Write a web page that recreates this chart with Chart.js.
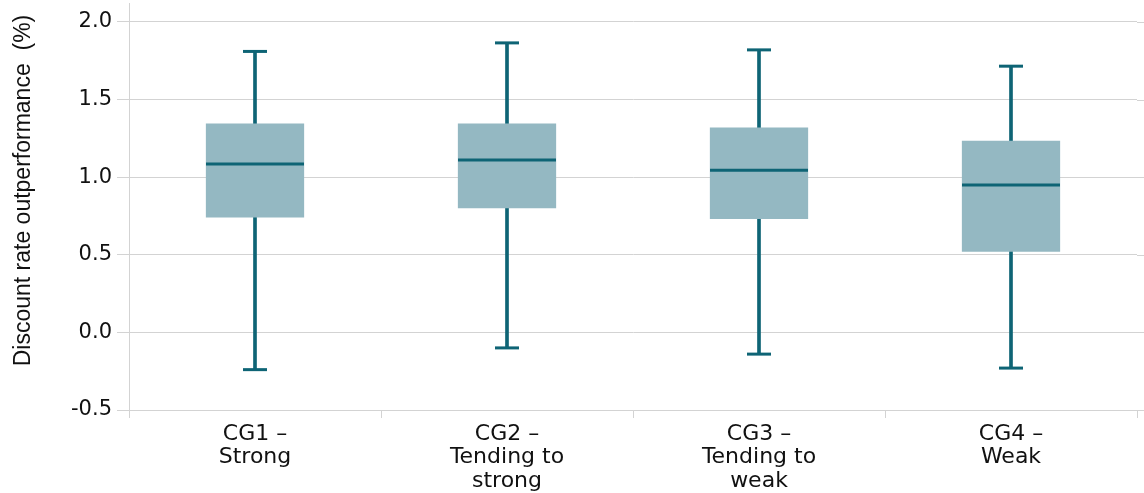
<!DOCTYPE html>
<html>
<head>
<meta charset="utf-8">
<script src="https://cdn.jsdelivr.net/npm/chart.js@4/dist/chart.umd.min.js"></script>
<style>
  html, body { margin: 0; padding: 0; background: #fff; }
  #wrap { width: 1144px; height: 493px; position: relative; }
</style>
</head>
<body>
<div id="wrap"><canvas id="boxChart"></canvas></div>
<script>
// Categories and box plot statistics (%)
const categories = [
    ['CG1 \u2013', 'Strong'],
    ['CG2 \u2013', 'Tending to', 'strong'],
    ['CG3 \u2013', 'Tending to', 'weak'],
    ['CG4 \u2013', 'Weak']
];
const minValues    = [-0.24, -0.10, -0.14, -0.23];
const q1Values     = [0.74, 0.80, 0.73, 0.52];
const medianValues = [1.085, 1.11, 1.045, 0.95];
const q3Values     = [1.345, 1.345, 1.32, 1.235];
const maxValues    = [1.81, 1.865, 1.82, 1.715];
const yTicks = [-0.5, 0.0, 0.5, 1.0, 1.5, 2.0];

const darkTeal = '#0e6475';
const boxFill = '#94b8c2';
const gridGrey = '#d3d3d3';

// Whisker and box ranges built from the arrays
const whiskerRanges = minValues.map((v, i) => [v, maxValues[i]]);
const boxRanges = q1Values.map((v, i) => [v, q3Values[i]]);

// Gridlines run a little past the last category tick, to the page edge
const gridExtend = {
    id: 'gridExtend',
    beforeDatasetsDraw(chart) {
        const ctx = chart.ctx;
        const y = chart.scales.y;
        const right = chart.chartArea.right;
        ctx.save();
        ctx.strokeStyle = gridGrey;
        ctx.lineWidth = 1;
        yTicks.forEach(t => {
            const py = Math.round(y.getPixelForValue(t)) + 0.5;
            ctx.beginPath();
            ctx.moveTo(right, py);
            ctx.lineTo(chart.width, py);
            ctx.stroke();
        });
        ctx.restore();
    }
};

const ctx = document.getElementById('boxChart').getContext('2d');
new Chart(ctx, {
    type: 'bar',
    data: {
        labels: categories,
        datasets: [
            {
                type: 'line',
                label: 'Median',
                data: medianValues,
                showLine: false,
                pointStyle: 'line',
                pointRadius: 49,
                pointBorderWidth: 3,
                pointBorderColor: darkTeal,
                pointBackgroundColor: darkTeal,
                order: 1
            },
            {
                type: 'line',
                label: 'Max',
                data: maxValues,
                showLine: false,
                pointStyle: 'line',
                pointRadius: 12,
                pointBorderWidth: 3,
                pointBorderColor: darkTeal,
                order: 1
            },
            {
                type: 'line',
                label: 'Min',
                data: minValues,
                showLine: false,
                pointStyle: 'line',
                pointRadius: 12,
                pointBorderWidth: 3,
                pointBorderColor: darkTeal,
                order: 1
            },
            {
                label: 'Interquartile range',
                data: boxRanges,
                backgroundColor: boxFill,
                borderWidth: 0,
                grouped: false,
                barPercentage: 0.39,
                categoryPercentage: 1,
                order: 2
            },
            {
                label: 'Range',
                data: whiskerRanges,
                backgroundColor: darkTeal,
                borderWidth: 0,
                grouped: false,
                barThickness: 3,
                order: 3
            }
        ]
    },
    options: {
        responsive: true,
        maintainAspectRatio: false,
        animation: false,
        layout: { autoPadding: false, padding: { top: 3, right: 7, bottom: 0, left: 0 } },
        plugins: {
            legend: { display: false },
            tooltip: { enabled: false }
        },
        scales: {
            x: {
                offset: true,
                grid: {
                    display: true,
                    offset: true,
                    drawOnChartArea: false,
                    color: gridGrey,
                    tickLength: 8
                },
                border: { color: gridGrey },
                ticks: {
                    color: '#111',
                    padding: 4,
                    maxRotation: 0,
                    autoSkip: false,
                    font: { family: "'DejaVu Sans', sans-serif", size: 22, lineHeight: 1.08 }
                },
                afterFit(scale) {
                    scale.height = 83;
                    scale.paddingLeft = 0;
                    scale.paddingRight = 0;
                }
            },
            y: {
                min: -0.5,
                max: 2.122,
                afterBuildTicks(scale) {
                    scale.ticks = yTicks.map(v => ({ value: v }));
                },
                grid: {
                    color: gridGrey,
                    tickLength: 12
                },
                border: { color: gridGrey },
                ticks: {
                    color: '#111',
                    padding: 5,
                    font: { family: "'DejaVu Sans', sans-serif", size: 21 },
                    callback: v => v.toFixed(1)
                },
                title: {
                    display: true,
                    text: '     Discount rate outperformance  (%)',
                    color: '#111',
                    padding: { top: 10, bottom: 2 },
                    font: { family: "'Liberation Sans', Arial, sans-serif", size: 23 }
                },
                afterFit(scale) {
                    scale.width = 129;
                    scale.paddingTop = 0;
                    scale.paddingBottom = 0;
                }
            }
        }
    },
    plugins: [gridExtend]
});
</script>
</body>
</html>
